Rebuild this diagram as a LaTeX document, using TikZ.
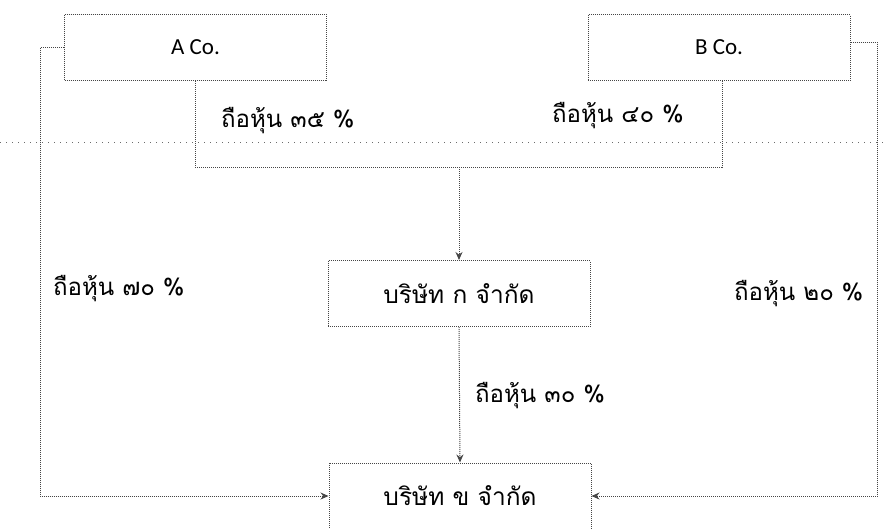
\documentclass[tikz,border=0pt]{standalone}
\usepackage{fontspec}
\setmainfont{Carlito}
\newfontfamily\thaifont[Script=Thai]{Loma}
\usetikzlibrary{arrows.meta}
\definecolor{ink}{RGB}{70,70,70}
\tikzset{
  cobox/.style={draw=ink, densely dotted, line width=1pt, minimum width=262pt, minimum height=66pt, inner sep=0pt, font=\fontsize{23}{27}\selectfont, text=black},
  thaibox/.style={cobox, font=\thaifont\fontsize{24.5}{28}\selectfont},
  link/.style={draw=ink, densely dotted, line width=1pt},
  arr/.style={link, -{Stealth[length=8pt,width=7pt]}},
  lbl/.style={anchor=west, inner sep=0pt, font=\thaifont\fontsize{24}{28}\selectfont, text=black},
  divider/.style={draw=ink!80, dash pattern=on 1pt off 5pt, line width=1pt}
}
\begin{document}
\begin{tikzpicture}[x=1pt,y=-1pt]
\useasboundingbox (0,0) rectangle (885,528);
\node[cobox] (A) at (195.5,47.5) {A Co.};
\node[cobox] (B) at (719,47.5) {B Co.};
\node[thaibox] (K) at (459,293.5) {บริษัท ก จำกัด};
\node[thaibox] (Kh) at (460,496) {บริษัท ข จำกัด};
% merge bracket
\coordinate (mL) at (195,167);
\coordinate (mR) at (722,167);
\coordinate (mC) at (459,167);
\draw[link] (A.south -| mL) -- (mL) -- (mR) -- (B.south -| mR);
\draw[arr] (mC) -- (K.north);
\draw[arr] (K.south) -- (Kh.north);
% side connectors
\coordinate (lTop) at (40,47.5);
\coordinate (lBot) at (40,496);
\coordinate (rTop) at (877,42);
\coordinate (rBot) at (877,496);
\draw[arr] (A.west) -- (lTop) -- (lBot) -- (Kh.west);
\draw[arr] ([yshift=5.5pt]B.east) -- (rTop) -- (rBot) -- (Kh.east);
% divider
\coordinate (d1) at (0,142);
\coordinate (d2) at (885,142);
\draw[divider] (d1) -- (d2);
% labels
\node[lbl] (l35) at (221,121) {ถือหุ้น ๓๕ \%};
\node[lbl] (l40) at (552,116) {ถือหุ้น ๔๐ \%};
\node[lbl] (l70) at (53,289) {ถือหุ้น ๗๐ \%};
\node[lbl] (l20) at (734,294) {ถือหุ้น ๒๐ \%};
\node[lbl] (l30) at (475,396) {ถือหุ้น ๓๐ \%};
\end{tikzpicture}
\end{document}
